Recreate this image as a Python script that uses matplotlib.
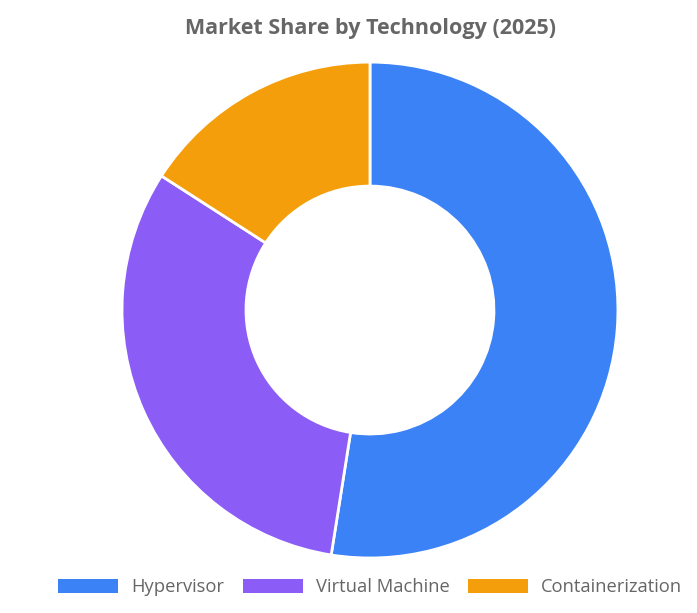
import matplotlib
matplotlib.use("Agg")
import matplotlib.pyplot as plt

labels = ["Hypervisor", "Virtual Machine", "Containerization"]
shares = [52.5, 31.6, 15.9]
colors = ["#3b82f6", "#8b5cf6", "#f59e0b"]

plt.rcParams["font.family"] = ["Open Sans", "DejaVu Sans"]

fig = plt.figure(figsize=(6.97, 6.13), dpi=100)
ax = fig.add_axes([0.175, 0.0897, 0.7116, 0.809])

wedges, _ = ax.pie(shares, colors=colors, startangle=90, counterclock=False,
                   radius=1, wedgeprops=dict(width=0.5, edgecolor="white", linewidth=2))
ax.set_xlim(-1.0, 1.0)
ax.set_ylim(-1.0, 1.0)
ax.set_aspect("equal")

fig.text(0.531, 0.953, "Market Share by Technology (2025)", ha="center", va="center",
         fontsize=15.5, fontweight="bold", color="#666666")

leg = fig.legend(wedges, labels, loc="center", bbox_to_anchor=(0.531, 0.042), ncol=3,
                 frameon=False, fontsize=13.2, handlelength=3.3, handleheight=0.8,
                 handletextpad=0.7, columnspacing=1.0, labelcolor="#666666")
for h in leg.legend_handles:
    h.set_edgecolor("none")

fig.savefig("out.png", dpi=100)
